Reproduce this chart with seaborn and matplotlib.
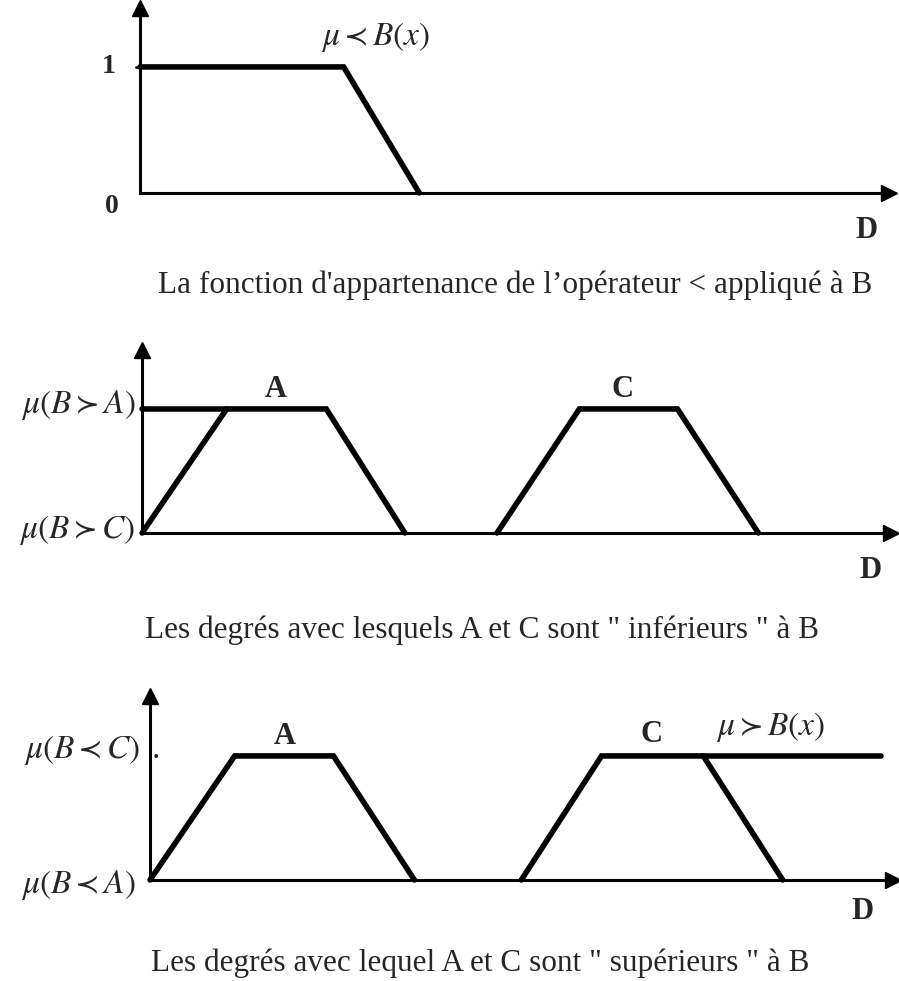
# Fuzzy "inferior / superior" membership diagrams
import numpy as np
import pandas as pd
import matplotlib
matplotlib.use('Agg')
import matplotlib.pyplot as plt
import seaborn as sns

sns.set_style("white")
plt.rcParams['font.family'] = ['Liberation Serif', 'DejaVu Serif']
plt.rcParams['mathtext.fontset'] = 'stix'

# Data (x in D units, 0..10 along the axis; y membership, 1 = top level)
p1_x = [0.0, 2.72, 3.73]
p1_y = [1.0, 1.0, 0.0]

p2_top_x = [0.0, 1.13]
p2_top_y = [1.0, 1.0]
p2_a_x = [0.0, 1.13, 2.46, 3.51]
p2_a_y = [0.0, 1.0, 1.0, 0.0]
p2_c_x = [4.74, 5.84, 7.15, 8.23]
p2_c_y = [0.0, 1.0, 1.0, 0.0]

p3_a_x = [0.0, 1.14, 2.47, 3.56]
p3_a_y = [0.0, 1.0, 1.0, 0.0]
p3_c_x = [5.00, 6.08, 7.45, 8.52]
p3_c_y = [0.0, 1.0, 1.0, 0.0]
p3_b_x = [7.45, 9.85]
p3_b_y = [1.0, 1.0]

captions = ["La fonction d'appartenance de l\u2019op\u00e9rateur < appliqu\u00e9 \u00e0 B",
            "Les degr\u00e9s avec lesquels A et C sont \" inf\u00e9rieurs \" \u00e0 B",
            "Les degr\u00e9s avec lequel A et C sont \" sup\u00e9rieurs \" \u00e0 B"]

# Plotting parameters
line_w = 4.0
axis_w = 2.2
label_size = 24
bold_size = 22
caption_size = 22.5

fig = plt.figure(figsize=(8.99, 9.81), dpi=100)


def arrow_axes(rect, ymax):
    ax = fig.add_axes(rect)
    ax.set_xlim(0, 10)
    ax.set_ylim(0, ymax)
    for side in ['top', 'right']:
        ax.spines[side].set_visible(False)
    for side in ['left', 'bottom']:
        ax.spines[side].set_linewidth(axis_w)
        ax.spines[side].set_color('black')
    ax.set_xticks([])
    ax.set_yticks([])
    ax.plot(1, 0, '>k', ms=12, transform=ax.get_yaxis_transform(), clip_on=False)
    ax.plot(0, 1, '^k', ms=12, transform=ax.get_xaxis_transform(), clip_on=False)
    ax.patch.set_alpha(0)
    return ax


def shape(ax, xs, ys, lw=line_w):
    sns.lineplot(x=xs, y=ys, ax=ax, sort=False, estimator=None, color='black',
                 linewidth=lw, clip_on=False, solid_joinstyle='miter')


# Panel 1
ax1 = arrow_axes([0.1557, 0.8033, 0.833, 0.1886], 1.468)
shape(ax1, p1_x, p1_y)
ax1.text(-0.32, 1.0, '1', ha='right', va='center', fontsize=20, fontweight='bold')
ax1.text(-0.29, -0.11, '0', ha='right', va='center', fontsize=20, fontweight='bold')
ax1.text(3.15, 1.238, r'$\mu \prec B(x)$', ha='center', va='center', fontsize=label_size)
ax1.text(9.70, -0.294, 'D', ha='center', va='center', fontsize=bold_size, fontweight='bold')
ax1.plot([-0.05, 0], [1, 1], color='black', lw=2, clip_on=False)

# Panel 2
ax2 = arrow_axes([0.158, 0.4567, 0.833, 0.1865], 1.475)
shape(ax2, p2_top_x, p2_top_y)
shape(ax2, p2_a_x, p2_a_y)
shape(ax2, p2_c_x, p2_c_y)
ax2.text(1.79, 1.153, 'A', ha='center', va='center', fontsize=bold_size, fontweight='bold')
ax2.text(6.42, 1.153, 'C', ha='center', va='center', fontsize=bold_size, fontweight='bold')
ax2.text(-0.09, 1.03, r'$\mu(B \succ A)$', ha='right', va='center', fontsize=label_size)
ax2.text(-0.09, 0.024, r'$\mu(B \succ C)$', ha='right', va='center', fontsize=label_size)
ax2.text(9.73, -0.30, 'D', ha='center', va='center', fontsize=bold_size, fontweight='bold')

# Panel 3
ax3 = arrow_axes([0.1669, 0.103, 0.826, 0.1876], 1.484)
shape(ax3, p3_a_x, p3_a_y)
shape(ax3, p3_c_x, p3_c_y)
shape(ax3, p3_b_x, p3_b_y)
ax3.text(1.82, 1.153, 'A', ha='center', va='center', fontsize=bold_size, fontweight='bold')
ax3.text(6.75, 1.17, 'C', ha='center', va='center', fontsize=bold_size, fontweight='bold')
ax3.text(8.36, 1.234, r'$\mu \succ B(x)$', ha='center', va='center', fontsize=label_size)
ax3.text(-0.13, 1.05, r'$\mu(B \prec C)$', ha='right', va='center', fontsize=label_size)
ax3.text(0.02, 1.05, '.', ha='left', va='center', fontsize=label_size)
ax3.text(-0.2, -0.04, r'$\mu(B \prec A)$', ha='right', va='center', fontsize=label_size)
ax3.text(9.59, -0.258, 'D', ha='center', va='center', fontsize=bold_size, fontweight='bold')

# Captions
fig.text(515 / 899, 1 - 285 / 981, captions[0], ha='center', va='center', fontsize=caption_size)
fig.text(482 / 899, 1 - 630 / 981, captions[1], ha='center', va='center', fontsize=caption_size)
fig.text(480 / 899, 1 - 963 / 981, captions[2], ha='center', va='center', fontsize=caption_size)

fig.savefig('out.png', dpi=100)
